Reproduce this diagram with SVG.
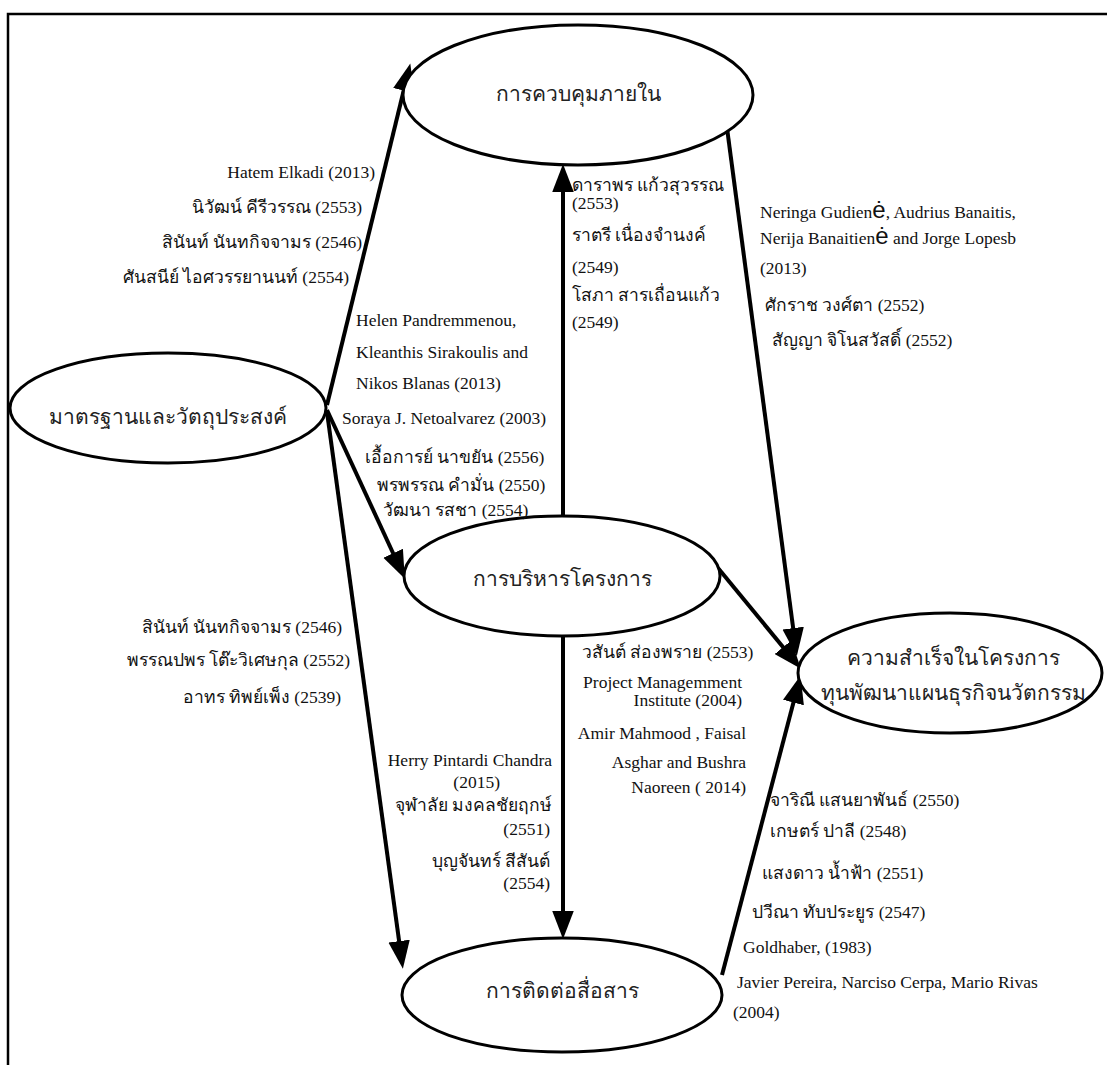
<svg xmlns="http://www.w3.org/2000/svg" width="1107" height="1065" viewBox="0 0 1107 1065">
<style>
.node{fill:#fff;stroke:#000;stroke-width:3}
.nl{font-family:"Liberation Sans","Noto Sans",sans-serif;font-size:21px;fill:#222;text-anchor:middle}
.t{font-family:"Liberation Serif","Noto Serif",serif;font-size:17.5px;fill:#111}
.r{text-anchor:end}
.c{stroke:#000;stroke-width:4;fill:none;marker-end:url(#ah)}
.big{font-family:"Liberation Sans",sans-serif;font-size:24px}
</style>
<defs>
<marker id="ah" markerUnits="userSpaceOnUse" markerWidth="28" markerHeight="22" refX="13" refY="10" orient="auto" viewBox="0 0 26 20">
<path d="M0,0 L26,10 L0,20 z" fill="#000"/>
</marker>
</defs>
<rect width="1107" height="1065" fill="#fff"/>
<g id="frame" stroke="#000" stroke-width="2.5" fill="none">
<path d="M8,1065 L8,14 L1107,14"/>
</g>
<g id="connectors">
<line class="c" x1="327" y1="405" x2="407" y2="77"/>
<line class="c" x1="327" y1="410" x2="399" y2="566"/>
<line class="c" x1="327" y1="412" x2="401" y2="955"/>
<line class="c" x1="563" y1="516" x2="563" y2="178"/>
<line class="c" x1="563" y1="636" x2="563" y2="925"/>
<line class="c" x1="727" y1="128" x2="795" y2="642"/>
<line class="c" x1="718" y1="568" x2="792" y2="658"/>
<line class="c" x1="722" y1="975" x2="797" y2="689"/>
</g>
<g id="n-control"><ellipse class="node" cx="578" cy="95" rx="175" ry="70"/><text class="nl" x="578" y="101">การควบคุมภายใน</text></g>
<g id="n-standard"><ellipse class="node" cx="168" cy="408" rx="158" ry="55"/><text class="nl" x="168" y="424">มาตรฐานและวัตถุประสงค์</text></g>
<g id="n-manage"><ellipse class="node" cx="562" cy="576" rx="158" ry="60"/><text class="nl" x="562" y="586">การบริหารโครงการ</text></g>
<g id="n-success"><ellipse class="node" cx="950" cy="673" rx="152" ry="60"/><text class="nl" x="953" y="665">ความสำเร็จในโครงการ</text><text class="nl" x="953" y="700">ทุนพัฒนาแผนธุรกิจนวัตกรรม</text></g>
<g id="n-comm"><ellipse class="node" cx="562" cy="995" rx="160" ry="57"/><text class="nl" x="562" y="998">การติดต่อสื่อสาร</text></g>
<g id="labels">
<text class="t r" x="375" y="178">Hatem Elkadi (2013)</text>
<text class="t r" x="362" y="213">นิวัฒน์ คีรีวรรณ (2553)</text>
<text class="t r" x="362" y="248">สินันท์ นันทกิจจามร (2546)</text>
<text class="t r" x="349" y="283">ศันสนีย์ ไอศวรรยานนท์ (2554)</text>
<text class="t" x="356" y="326">Helen Pandremmenou,</text>
<text class="t" x="356" y="358">Kleanthis Sirakoulis and</text>
<text class="t" x="356" y="389">Nikos Blanas (2013)</text>
<text class="t" x="342" y="424">Soraya J. Netoalvarez (2003)</text>
<text class="t" x="365" y="463">เอื้อการย์ นาขยัน (2556)</text>
<text class="t" x="377" y="491">พรพรรณ คำมั่น (2550)</text>
<text class="t" x="383" y="516">วัฒนา รสชา (2554)</text>
<text class="t" x="572" y="191">ดาราพร แก้วสุวรรณ</text>
<text class="t" x="572" y="209">(2553)</text>
<text class="t" x="572" y="241">ราตรี เนื่องจำนงค์</text>
<text class="t" x="572" y="273">(2549)</text>
<text class="t" x="572" y="301">โสภา สารเถื่อนแก้ว</text>
<text class="t" x="572" y="328">(2549)</text>
<text class="t" x="760" y="218">Neringa Gudien<tspan class="big">ė</tspan>, Audrius Banaitis,</text>
<text class="t" x="760" y="244">Nerija Banaitien<tspan class="big">ė</tspan> and Jorge Lopesb</text>
<text class="t" x="760" y="274">(2013)</text>
<text class="t" x="765" y="311">ศักราช วงศ์ตา (2552)</text>
<text class="t" x="772" y="346">สัญญา  จิโนสวัสดิ์ (2552)</text>
<text class="t r" x="342" y="633">สินันท์ นันทกิจจามร   (2546)</text>
<text class="t r" x="350" y="666">พรรณปพร   โต๊ะวิเศษกุล (2552)</text>
<text class="t r" x="341" y="703">อาทร ทิพย์เพ็ง (2539)</text>
<text class="t r" x="552" y="766">Herry Pintardi Chandra</text>
<text class="t r" x="500" y="788">(2015)</text>
<text class="t r" x="552" y="811">จุฬาลัย มงคลชัยฤกษ์</text>
<text class="t r" x="550" y="835">(2551)</text>
<text class="t r" x="550" y="867">บุญจันทร์ สีสันต์</text>
<text class="t r" x="550" y="889">(2554)</text>
<text class="t" x="582" y="658">วสันต์  ส่องพราย (2553)</text>
<text class="t r" x="742" y="688">Project Managemment</text>
<text class="t r" x="742" y="706">Institute (2004)</text>
<text class="t r" x="746" y="739">Amir Mahmood , Faisal</text>
<text class="t r" x="746" y="768">Asghar and Bushra</text>
<text class="t r" x="746" y="793">Naoreen ( 2014)</text>
<text class="t" x="770" y="806">จาริณี แสนยาพันธ์ (2550)</text>
<text class="t" x="770" y="837">เกษตร์ ปาลี (2548)</text>
<text class="t" x="762" y="879">แสงดาว น้ำฟ้า (2551)</text>
<text class="t" x="752" y="918">ปวีณา ทับประยูร (2547)</text>
<text class="t" x="743" y="953">Goldhaber, (1983)</text>
<text class="t" x="737" y="988">Javier Pereira, Narciso Cerpa, Mario Rivas</text>
<text class="t" x="733" y="1018">(2004)</text>
</g>
</svg>
